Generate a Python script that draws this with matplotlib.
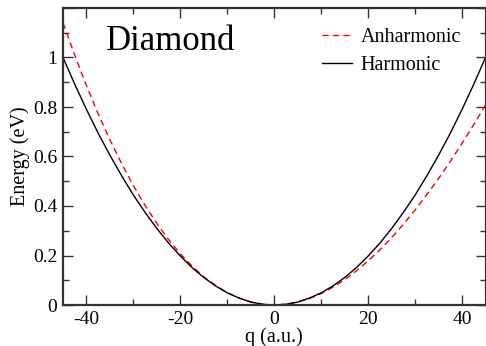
import numpy as np
import matplotlib
matplotlib.use("Agg")
import matplotlib.pyplot as plt
from matplotlib.ticker import MultipleLocator, FuncFormatter

plt.rcParams["font.family"] = ["Liberation Serif", "DejaVu Serif"]
plt.rcParams["axes.unicode_minus"] = False

# q in a.u., energies in eV
q = [-45, -42.5, -40, -37.5, -35, -32.5, -30, -27.5, -25, -22.5, -20, -17.5,
     -15, -12.5, -10, -7.5, -5, -2.5, 0, 2.5, 5, 7.5, 10, 12.5, 15, 17.5,
     20, 22.5, 25, 27.5, 30, 32.5, 35, 37.5, 40, 42.5, 45]
e_anharm = [1.140, 1.009, 0.886, 0.772, 0.667, 0.571, 0.482, 0.402, 0.329,
            0.264, 0.207, 0.157, 0.114, 0.079, 0.050, 0.028, 0.012, 0.003,
            0.0, 0.003, 0.012, 0.026, 0.046, 0.072, 0.102, 0.138, 0.178,
            0.223, 0.272, 0.326, 0.384, 0.446, 0.511, 0.580, 0.653, 0.729,
            0.808]
e_harm = [1.000, 0.892, 0.790, 0.694, 0.605, 0.522, 0.444, 0.374, 0.309,
          0.250, 0.198, 0.151, 0.111, 0.077, 0.049, 0.028, 0.012, 0.003,
          0.0, 0.003, 0.012, 0.028, 0.049, 0.077, 0.111, 0.151, 0.198,
          0.250, 0.309, 0.374, 0.444, 0.522, 0.605, 0.694, 0.790, 0.892,
          1.000]

fig = plt.figure(figsize=(4.86, 3.46), dpi=100)
ax = fig.add_axes([63 / 486, 41 / 346, 422.5 / 486, 297 / 346])

ax.plot(q, e_anharm, color="red", lw=1.0, ls=(0, (4.5, 3)), label="Anharmonic")
ax.plot(q, e_harm, color="black", lw=1.0, label="Harmonic")

ax.set_xlim(-45, 45)
ax.set_ylim(0, 1.2)
ax.xaxis.set_major_locator(MultipleLocator(20))
ax.xaxis.set_minor_locator(MultipleLocator(10))
ax.yaxis.set_major_locator(MultipleLocator(0.2))
ax.yaxis.set_minor_locator(MultipleLocator(0.1))
ax.yaxis.set_major_formatter(FuncFormatter(lambda v, p: "%g" % round(v, 2) if v < 1.1 else ""))
ax.tick_params(which="both", direction="in", top=True, right=True,
               labelsize=14, width=1.0, color="#333333")
ax.tick_params(which="major", length=7, pad=4)
ax.tick_params(which="minor", length=4)
for s in ax.spines.values():
    s.set_linewidth(1.6)
    s.set_color("#333333")

ax.set_xlabel("q (a.u.)", fontsize=14.5, labelpad=0)
ax.set_ylabel("Energy (eV)", fontsize=14.5, labelpad=2)

ax.text(0.102, 0.859, "Diamond", transform=ax.transAxes, fontsize=25,
        ha="left", va="baseline")

ax.legend(loc="upper left", bbox_to_anchor=(0.612, 0.933), frameon=False,
          fontsize=14.5, borderpad=0, handlelength=1.5, handletextpad=0.45,
          labelspacing=0.42, borderaxespad=0)

fig.savefig("out.png", dpi=100)
